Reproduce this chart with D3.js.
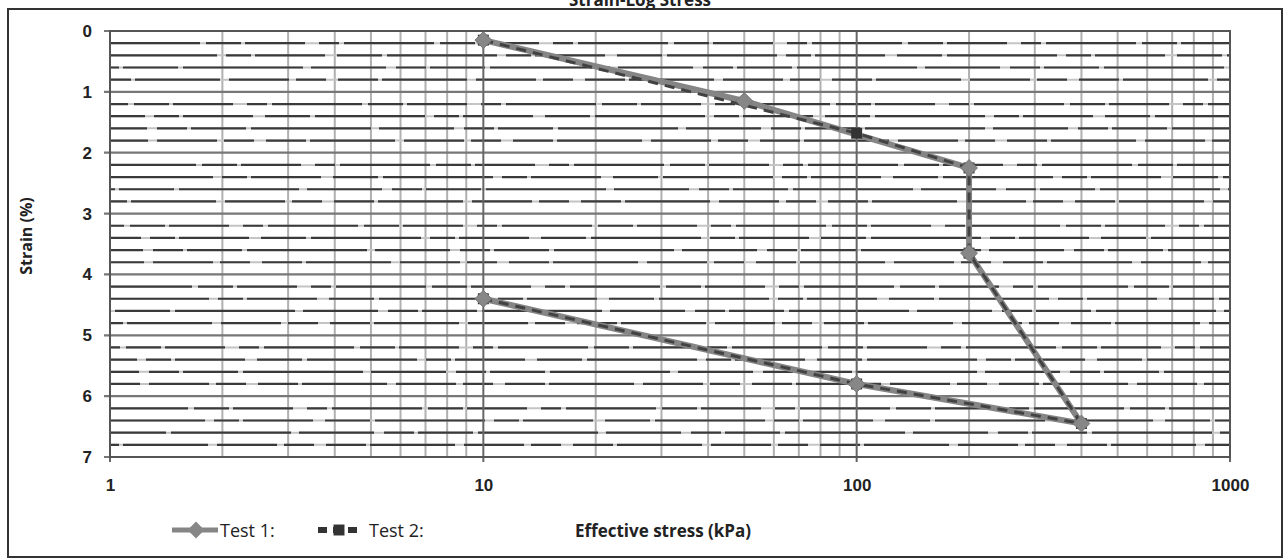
<!DOCTYPE html>
<html>
<head>
<meta charset="utf-8">
<script src="https://cdn.jsdelivr.net/npm/d3@7"></script>
<style>
  html, body { margin: 0; padding: 0; background: #fff; overflow: hidden; }
  svg { display: block; font-family: "Open Sans", "DejaVu Sans", sans-serif; }
</style>
</head>
<body>
<svg id="chart"></svg>
<script>
const width = 1285, height = 560;
const margin = { top: 31, right: 55, bottom: 103, left: 110 };
const innerWidth = width - margin.left - margin.right;
const innerHeight = height - margin.top - margin.bottom;

// Data
const test1Stress = [10, 50, 200, 200, 400, 100, 10];
const test1Strain = [0.15, 1.15, 2.25, 3.65, 6.45, 5.8, 4.4];
const test2Stress = [10, 100, 200, 200, 400, 100, 10];
const test2Strain = [0.15, 1.68, 2.25, 3.65, 6.45, 5.8, 4.4];
const xTicks = [1, 10, 100, 1000];
const yTicks = [0, 1, 2, 3, 4, 5, 6, 7];

const svg = d3.select('#chart').attr('width', width).attr('height', height);

// outer frame and title (mostly cut off by the top edge, as in the scan)
svg.append('rect').attr('x', 8).attr('y', 9).attr('width', 1274).attr('height', 548)
  .attr('fill', 'none').attr('stroke', '#333').attr('stroke-width', 2);
svg.append('text').attr('x', 640).attr('y', 6).attr('text-anchor', 'middle')
  .style('font-size', '17px').style('font-weight', 700).attr('fill', '#222')
  .text('Strain-Log Stress');

const g = svg.append('g').attr('transform', `translate(${margin.left},${margin.top})`);

const x = d3.scaleLog().domain([1, 1000]).range([0, innerWidth]);
const y = d3.scaleLinear().domain([0, 7]).range([0, innerHeight]);

// vertical gridlines
const vMinor = [];
[1, 10, 100].forEach(d => { for (let k = 2; k <= 9; k++) vMinor.push(d * k); });
g.append('g').selectAll('line').data(vMinor).join('line')
  .attr('x1', d => x(d)).attr('x2', d => x(d)).attr('y1', 0).attr('y2', innerHeight)
  .attr('stroke', '#b0b0b0').attr('stroke-width', 2);

// horizontal minor gridlines (scanned look: light line + broken dark dashes)
const hMinor = d3.range(0, 35).map(i => i * 0.2).filter(d => Math.abs(d - Math.round(d)) > 0.01);
g.append('g').selectAll('line').data(hMinor).join('line')
  .attr('x1', 0).attr('x2', innerWidth).attr('y1', d => y(d)).attr('y2', d => y(d))
  .attr('stroke', '#c4c4c4').attr('stroke-width', 2);
const dashes = ['90,6,35,4,60,14,20,5', '45,5,110,9,25,4,70,12', '75,10,30,4,55,5,120,8', '40,4,85,9,60,7,30,12'];
g.append('g').selectAll('line').data(hMinor).join('line')
  .attr('x1', 0).attr('x2', innerWidth).attr('y1', d => y(d)).attr('y2', d => y(d))
  .attr('stroke', '#3a3a3a').attr('stroke-width', 2.2)
  .attr('stroke-dasharray', (d, i) => dashes[i % dashes.length])
  .attr('stroke-dashoffset', (d, i) => (i * 53) % 140);

// major gridlines
g.append('g').selectAll('line').data(yTicks).join('line')
  .attr('x1', -6).attr('x2', innerWidth).attr('y1', d => y(d)).attr('y2', d => y(d))
  .attr('stroke', '#777').attr('stroke-width', 2.2);
g.append('g').selectAll('line').data(xTicks).join('line')
  .attr('x1', d => x(d)).attr('x2', d => x(d)).attr('y1', 0).attr('y2', innerHeight + 5)
  .attr('stroke', '#666').attr('stroke-width', 2);

g.append('rect').attr('width', innerWidth).attr('height', innerHeight)
  .attr('fill', 'none').attr('stroke', '#555').attr('stroke-width', 2);

// axes labels
const yAxis = g.append('g')
  .call(d3.axisLeft(y).tickValues(yTicks).tickFormat(d3.format('d')).tickSize(0).tickPadding(18));
yAxis.select('.domain').remove();
yAxis.selectAll('text').style('font-size', '17px').style('font-weight', 700).attr('fill', '#222');
const xAxis = g.append('g').attr('transform', `translate(0,${innerHeight})`)
  .call(d3.axisBottom(x).tickValues(xTicks).tickFormat(d3.format('d')).tickSize(0).tickPadding(22));
xAxis.select('.domain').remove();
xAxis.selectAll('text').style('font-size', '17px').style('font-weight', 700).attr('fill', '#222');

svg.append('text').attr('transform', 'translate(32,236) rotate(-90)').attr('text-anchor', 'middle')
  .style('font-size', '16px').style('font-weight', 700).attr('fill', '#222').text('Strain (%)');

// series
const t1 = test1Stress.map((s, i) => [s, test1Strain[i]]);
const t2 = test2Stress.map((s, i) => [s, test2Strain[i]]);
const line = d3.line().x(d => x(d[0])).y(d => y(d[1]));

g.append('path').attr('d', line(t1)).attr('fill', 'none')
  .attr('stroke', '#858585').attr('stroke-width', 6).attr('stroke-linejoin', 'round');
g.append('path').attr('d', line(t2)).attr('fill', 'none')
  .attr('stroke', '#424242').attr('stroke-width', 3).attr('stroke-dasharray', '10,7');

const square = d3.symbol().type(d3.symbolSquare).size(120);
const diamond = d3.symbol().type(d3.symbolDiamond2).size(180);
g.append('g').selectAll('path').data(t2).join('path')
  .attr('d', square).attr('transform', d => `translate(${x(d[0])},${y(d[1])})`)
  .attr('fill', '#333');
g.append('g').selectAll('path').data(t1).join('path')
  .attr('d', diamond).attr('transform', d => `translate(${x(d[0])},${y(d[1])})`)
  .attr('fill', '#878787').attr('stroke', '#777');

// legend
const lg = svg.append('g').attr('transform', 'translate(0,530)');
lg.append('line').attr('x1', 172).attr('x2', 218).attr('stroke', '#858585').attr('stroke-width', 5);
lg.append('path').attr('d', diamond).attr('transform', 'translate(196,0)').attr('fill', '#878787');
lg.append('text').attr('x', 220).attr('y', 7).style('font-size', '18px').attr('fill', '#222').text('Test 1:');
lg.append('line').attr('x1', 318).attr('x2', 360).attr('stroke', '#333').attr('stroke-width', 6)
  .attr('stroke-dasharray', '9,6');
lg.append('path').attr('d', square).attr('transform', 'translate(339,0)').attr('fill', '#333');
lg.append('text').attr('x', 369).attr('y', 7).style('font-size', '18px').attr('fill', '#222').text('Test 2:');
lg.append('text').attr('x', 575).attr('y', 7).style('font-size', '17px').style('font-weight', 700)
  .attr('fill', '#222').text('Effective stress (kPa)');
</script>
</body>
</html>
